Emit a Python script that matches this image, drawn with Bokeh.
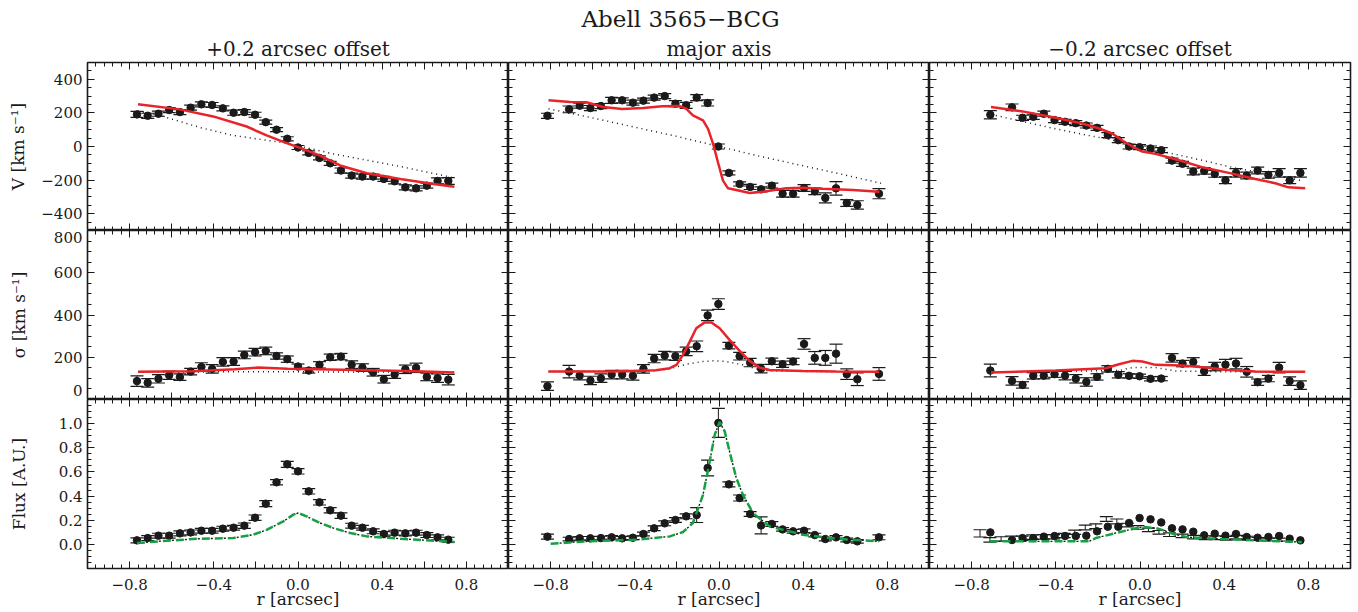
from bokeh.plotting import figure
from bokeh.layouts import column, row
from bokeh.models import (Range1d, LinearAxis, FixedTicker, Whisker, TeeHead,
                          ColumnDataSource, Title, CustomJSTickFormatter)
from bokeh.embed import file_html
from bokeh.resources import INLINE

FONT = "DejaVu Serif"

# ---------------- data ----------------
r_left = [-0.765, -0.714, -0.663, -0.612, -0.561, -0.510, -0.459, -0.408, -0.357, -0.306,
          -0.255, -0.204, -0.153, -0.102, -0.051, 0.000, 0.051, 0.102, 0.153, 0.204,
          0.255, 0.306, 0.357, 0.408, 0.459, 0.510, 0.561, 0.612, 0.663, 0.714]
r_major = [-0.815, -0.712, -0.662, -0.611, -0.561, -0.510, -0.460, -0.409, -0.359, -0.308,
           -0.258, -0.207, -0.156, -0.106, -0.054, -0.003, 0.047, 0.098, 0.148, 0.200,
           0.251, 0.302, 0.352, 0.404, 0.455, 0.505, 0.556, 0.607, 0.657, 0.760]
r_right = [-0.711, -0.608, -0.558, -0.507, -0.457, -0.406, -0.356, -0.305, -0.255, -0.204,
           -0.153, -0.103, -0.052, -0.002, 0.050, 0.101, 0.152, 0.202, 0.253, 0.305,
           0.355, 0.406, 0.456, 0.507, 0.559, 0.610, 0.661, 0.711, 0.762]

# velocity
v_left = [191, 183, 195, 217, 205, 231, 251, 247, 227, 201, 205, 189, 145, 100, 46,
          -6, -38, -68, -100, -143, -173, -179, -179, -193, -207, -243, -249, -233, -205, -205]
v_left_err = [18, 15, 15, 15, 15, 15, 15, 15, 15, 15, 15, 15, 12, 12, 12,
              12, 12, 12, 12, 15, 15, 15, 15, 15, 15, 15, 15, 15, 18, 20]
v_major = [183, 221, 243, 229, 241, 275, 275, 261, 273, 291, 300, 255, 245, 291, 259,
           0, -157, -223, -241, -255, -233, -281, -281, -247, -267, -306, -249, -336, -348, -281]
v_major_err = [15, 20, 15, 15, 15, 18, 15, 15, 15, 15, 15, 18, 18, 18, 18,
               15, 12, 12, 15, 15, 15, 20, 20, 20, 20, 30, 40, 20, 25, 30]
v_right = [189, 233, 171, 177, 195, 157, 147, 139, 125, 111, 68, 38, 0, -4, -12,
           -22, -84, -103, -149, -145, -163, -201, -157, -173, -143, -169, -157, -201, -157]
v_right_err = [25, 20, 15, 15, 15, 15, 15, 15, 15, 15, 15, 15, 15, 15, 15,
               15, 15, 15, 20, 20, 20, 20, 25, 20, 20, 20, 25, 20, 25]

vmod_left_r = [-0.76, -0.562, -0.403, -0.244, -0.149, -0.054, 0.010, 0.105, 0.2, 0.327, 0.486, 0.644, 0.743]
vmod_left_v = [251, 221, 179, 119, 66, 20, -8, -54, -113, -159, -193, -223, -239]
vnobh_left_r = [-0.76, -0.657, -0.46, -0.308, -0.054, 0.168, 0.486, 0.743]
vnobh_left_v = [211, 185, 111, 66, 20, -44, -119, -187]

vmod_major_r = [-0.81, -0.707, -0.63, -0.55, -0.46, -0.36, -0.27, -0.19, -0.156, -0.124, -0.076,
                -0.052, -0.028, -0.005, 0.019, 0.043, 0.082, 0.146, 0.209, 0.319, 0.398, 0.493, 0.635, 0.762]
vmod_major_v = [275, 265, 263, 235, 223, 229, 239, 241, 225, 185, 155,
                105, 16, -94, -203, -249, -259, -277, -269, -249, -245, -251, -259, -269]
vnobh_major_r = [-0.81, -0.6, -0.4, -0.2, 0.0, 0.2, 0.4, 0.6, 0.77]
vnobh_major_v = [225, 170, 115, 60, 0, -60, -115, -170, -219]

vmod_right_r = [-0.708, -0.558, -0.4, -0.27, -0.194, -0.13, -0.084, -0.036, 0.011, 0.074,
                0.169, 0.295, 0.422, 0.548, 0.643, 0.705, 0.785]
vmod_right_v = [235, 209, 171, 135, 107, 76, 36, 0, -30, -44, -76, -123, -157, -193, -219, -243, -249]
vnobh_right_r = [-0.708, -0.4, -0.084, -0.005, 0.232, 0.469, 0.548, 0.769]
vnobh_right_v = [191, 105, 26, 0, -64, -133, -149, -203]

# velocity dispersion
s_left = [87, 79, 98, 115, 106, 132, 154, 145, 178, 180, 211, 224, 230, 206, 191,
          156, 137, 164, 200, 203, 165, 151, 129, 96, 118, 143, 150, 107, 101, 94]
s_left_err = [25, 20, 20, 20, 15, 15, 20, 20, 20, 18, 18, 18, 18, 15, 15,
              12, 12, 15, 15, 15, 18, 18, 18, 18, 18, 20, 22, 18, 20, 25]
s_major = [63, 132, 113, 90, 101, 118, 118, 112, 145, 194, 208, 205, 228, 252, 398,
           452, 255, 205, 175, 146, 181, 167, 180, 263, 197, 197, 217, 120, 96, 121]
s_major_err = [20, 30, 20, 20, 20, 20, 20, 20, 20, 20, 20, 20, 20, 25, 25,
               25, 15, 18, 20, 20, 15, 15, 15, 25, 30, 35, 45, 25, 30, 30]
s_right = [137, 88, 69, 112, 113, 120, 113, 98, 83, 107, 145, 117, 112, 110, 98,
           99, 197, 170, 178, 134, 156, 165, 170, 131, 82, 99, 151, 87, 68]
s_right_err = [30, 20, 15, 15, 15, 15, 20, 20, 20, 15, 15, 15, 10, 10, 10,
               10, 20, 15, 20, 20, 20, 25, 25, 25, 15, 15, 25, 20, 20]

smod_left_r = [-0.76, -0.5, -0.3, -0.19, -0.05, 0.15, 0.4, 0.6, 0.743]
smod_left_s = [131, 134, 143, 151, 145, 142, 137, 132, 128]
snobh_left_r = [-0.76, -0.3, 0.0, 0.3, 0.743]
snobh_left_s = [130, 131, 131, 130, 129]

smod_major_r = [-0.81, -0.5, -0.3, -0.234, -0.202, -0.171, -0.139, -0.108, -0.068, -0.036,
                0.003, 0.050, 0.098, 0.145, 0.193, 0.24, 0.398, 0.556, 0.761]
smod_major_s = [132, 133, 138, 148, 164, 211, 274, 337, 365, 365,
                337, 282, 230, 183, 151, 140, 135, 132, 131]
snobh_major_r = [-0.81, -0.313, -0.234, -0.155, -0.076, -0.028, 0.035, 0.114, 0.177, 0.24, 0.5, 0.761]
snobh_major_s = [132, 135, 145, 167, 180, 183, 180, 164, 145, 135, 132, 131]

smod_right_r = [-0.708, -0.4, -0.163, -0.1, -0.036, 0.011, 0.074, 0.2, 0.31, 0.42, 0.548, 0.785]
smod_right_s = [128, 137, 148, 167, 183, 180, 164, 161, 151, 140, 132, 131]
snobh_right_r = [-0.708, -0.4, -0.1, -0.036, 0.074, 0.169, 0.4, 0.785]
snobh_right_s = [128, 133, 137, 151, 151, 135, 131, 130]

# flux
f_left = [0.033, 0.052, 0.072, 0.072, 0.091, 0.099, 0.113, 0.113, 0.130, 0.138,
          0.155, 0.221, 0.337, 0.514, 0.663, 0.605, 0.439, 0.348, 0.282, 0.238,
          0.155, 0.138, 0.108, 0.086, 0.097, 0.091, 0.097, 0.077, 0.058, 0.039]
f_left_err = [0.02] * 10 + [0.022, 0.022, 0.025, 0.022, 0.025, 0.022, 0.022, 0.022, 0.022, 0.022] + [0.02] * 10
f_major = [0.064, 0.044, 0.050, 0.050, 0.052, 0.058, 0.050, 0.055, 0.086, 0.133,
           0.174, 0.202, 0.232, 0.243, 0.633, 1.006, 0.497, 0.384, 0.251, 0.157,
           0.169, 0.124, 0.108, 0.113, 0.077, 0.044, 0.058, 0.036, 0.025, 0.058]
f_major_err = [0.02, 0.015, 0.015, 0.015, 0.015, 0.015, 0.015, 0.015, 0.015, 0.02,
               0.02, 0.02, 0.02, 0.062, 0.065, 0.12, 0.02, 0.025, 0.02, 0.07,
               0.02, 0.015, 0.015, 0.015, 0.015, 0.015, 0.015, 0.015, 0.015, 0.02]
f_right = [0.099, 0.036, 0.052, 0.052, 0.064, 0.069, 0.069, 0.069, 0.072, 0.108,
           0.146, 0.146, 0.177, 0.218, 0.207, 0.182, 0.133, 0.124, 0.105, 0.075,
           0.088, 0.072, 0.086, 0.061, 0.055, 0.061, 0.069, 0.047, 0.033]
f_right_eb_r = [-0.760, -0.713, -0.66, -0.61, -0.56, -0.51, -0.46, -0.41, -0.36, -0.31,
                -0.26, -0.21, -0.16, -0.11, -0.06, -0.01, 0.04, 0.09, 0.14, 0.2,
                0.255, 0.31, 0.36, 0.41, 0.46, 0.51, 0.56, 0.61, 0.66]
f_right_eb_f = [0.091, 0.037, 0.045, 0.05, 0.05, 0.06, 0.062, 0.063, 0.073, 0.1,
                0.14, 0.15, 0.21, 0.19, 0.16, 0.14, 0.12, 0.10, 0.08, 0.07,
                0.06, 0.055, 0.055, 0.05, 0.06, 0.052, 0.045, 0.04, 0.04]
f_right_eb_err = [0.03, 0.018, 0.018, 0.018, 0.018, 0.018, 0.018, 0.018, 0.018, 0.018,
                  0.02, 0.02, 0.02, 0.02, 0.015, 0.015, 0.015, 0.015, 0.015, 0.015,
                  0.015, 0.015, 0.015, 0.015, 0.015, 0.015, 0.012, 0.012, 0.012]

fmod_left_r = [-0.765, -0.625, -0.467, -0.308, -0.213, -0.149, -0.07, -0.022, 0.001, 0.041,
               0.105, 0.168, 0.248, 0.327, 0.486, 0.644, 0.743]
fmod_left_f = [0.011, 0.03, 0.047, 0.052, 0.08, 0.12, 0.19, 0.246, 0.26, 0.232,
               0.177, 0.135, 0.094, 0.066, 0.047, 0.03, 0.019]
fmod_major_r = [-0.80, -0.626, -0.39, -0.234, -0.171, -0.124, -0.076, -0.044, -0.02, 0.003,
                0.027, 0.05, 0.082, 0.114, 0.161, 0.24, 0.398, 0.556, 0.761]
fmod_major_f = [0.005, 0.025, 0.039, 0.066, 0.102, 0.177, 0.41, 0.688, 0.91, 1.014,
                0.936, 0.77, 0.55, 0.41, 0.26, 0.149, 0.08, 0.047, 0.025]
fmod_right_r = [-0.715, -0.242, -0.21, -0.115, -0.052, 0.01, 0.074, 0.105, 0.169, 0.232, 0.39, 0.548, 0.769]
fmod_right_f = [0.025, 0.025, 0.052, 0.094, 0.12, 0.144, 0.135, 0.12, 0.08, 0.058, 0.044, 0.033, 0.019]

col_titles = ["+0.2 arcsec offset", "major axis", "\u22120.2 arcsec offset"]
row_labels = ["V [km s\u207b\u00b9]", "\u03c3 [km s\u207b\u00b9]", "Flux [A.U.]"]
main_title = "Abell 3565\u2212BCG"

# ---------------- styling / layout ----------------
RED = "#e8242a"
GREEN = "#17a043"
INK = "#1a1a1a"
FRAME_W = 421
FRAME_H = [168, 169, 169]
YR = [(-500, 500), (0, 800), (-0.2, 1.2)]
Y_MAJOR = [[-400, -200, 0, 200, 400], [0, 200, 400, 600, 800], [0, 0.2, 0.4, 0.6, 0.8, 1.0]]
Y_MINOR = [[-500 + 50 * i for i in range(21)], [50 * i for i in range(17)],
           [round(-0.2 + 0.05 * i, 3) for i in range(29)]]
# positions where the left-column tick labels are written (end labels nudged inward as in the original)
Y_LABEL_POS = [[-400, -200, 0, 200, 400], [42, 200, 400, 600, 766], [0, 0.2, 0.4, 0.6, 0.8, 1.0]]
Y_FMT = [
    "return (tick < 0 ? '\u2212' : '') + Math.abs(tick).toFixed(0);",
    "if (tick < 100) return '0'; if (tick > 700) return '800'; return tick.toFixed(0);",
    "return Math.abs(tick).toFixed(1);",
]
X_MAJOR = [-0.8, -0.6, -0.4, -0.2, 0, 0.2, 0.4, 0.6, 0.8]
X_MINOR = [round(-1 + 0.04 * i, 3) for i in range(51)]
YLAB_STANDOFF = [10, 22, 27]

X_FMT = ("const k = Math.round(Math.abs(tick)*10); if (k % 4 != 0) return '';"
         " return (tick < -1e-9 ? '\u2212' : '') + Math.abs(tick).toFixed(1);")

def tick_axis(ticker):
    """Axis that only draws inward tick marks (no labels)."""
    return LinearAxis(ticker=ticker, formatter=CustomJSTickFormatter(code="return '';"),
                      axis_line_color=None,
                      major_tick_in=7, major_tick_out=0, minor_tick_in=4, minor_tick_out=0,
                      major_tick_line_color=INK, minor_tick_line_color=INK,
                      major_tick_line_width=1, minor_tick_line_width=1,
                      major_label_text_font_size="0px", major_label_standoff=0)

def label_axis(ticker, code, label, standoff, label_standoff):
    """Axis that only writes tick labels and the axis title (no tick marks)."""
    return LinearAxis(ticker=ticker, formatter=CustomJSTickFormatter(code=code),
                      axis_line_color=None,
                      major_tick_in=0, major_tick_out=0, minor_tick_in=0, minor_tick_out=0,
                      major_label_text_font=FONT, major_label_text_font_size="15px",
                      major_label_text_color=INK, major_label_standoff=standoff,
                      axis_label=label, axis_label_text_font=FONT,
                      axis_label_text_font_size="17px", axis_label_text_font_style="normal",
                      axis_label_text_color=INK, axis_label_standoff=label_standoff)

def errbars(p, xs, ys, es):
    src = ColumnDataSource(dict(x=xs, hi=[y + e for y, e in zip(ys, es)], lo=[y - e for y, e in zip(ys, es)]))
    w = Whisker(source=src, base="x", upper="hi", lower="lo", dimension="height",
                line_color=INK, line_width=1,
                upper_head=TeeHead(size=13, line_color=INK, line_width=1.2),
                lower_head=TeeHead(size=13, line_color=INK, line_width=1.2))
    p.add_layout(w)

def make_panel(ci, ri):
    left = 87 if ci == 0 else 0
    right = 7 if ci == 2 else 0
    top = 62 if ri == 0 else 0
    bottom = 44 if ri == 2 else 0
    p = figure(frame_width=FRAME_W, frame_height=FRAME_H[ri],
               x_range=Range1d(-1, 1), y_range=Range1d(*YR[ri]),
               output_backend="svg", toolbar_location=None,
               x_axis_location=None, y_axis_location=None,
               min_border_left=left, min_border_right=right,
               min_border_top=top, min_border_bottom=bottom)
    p.grid.visible = False
    p.outline_line_color = INK
    p.outline_line_width = 1.6
    p.background_fill_color = "white"
    p.border_fill_color = "white"
    yt = lambda: FixedTicker(ticks=Y_MAJOR[ri], minor_ticks=Y_MINOR[ri])
    xt = lambda: FixedTicker(ticks=X_MAJOR, minor_ticks=X_MINOR)
    p.add_layout(tick_axis(yt()), "left")
    p.add_layout(tick_axis(yt()), "right")
    p.add_layout(tick_axis(xt()), "below")
    p.add_layout(tick_axis(xt()), "above")
    if ci == 0:
        p.add_layout(label_axis(FixedTicker(ticks=Y_LABEL_POS[ri], minor_ticks=[]), Y_FMT[ri],
                                row_labels[ri], 5, YLAB_STANDOFF[ri]), "left")
    if ri == 2:
        p.add_layout(label_axis(FixedTicker(ticks=X_MAJOR, minor_ticks=[]), X_FMT,
                                "r [arcsec]", 10, -4), "below")
    if ri == 0:
        p.add_layout(Title(text=col_titles[ci], align="center", text_font=FONT,
                           text_font_size="20px", text_font_style="normal", text_color=INK,
                           standoff=4), "above")
    return p

panels = [[make_panel(ci, ri) for ci in range(3)] for ri in range(3)]

R = [r_left, r_major, r_right]
V = [v_left, v_major, v_right]
VE = [v_left_err, v_major_err, v_right_err]
S = [s_left, s_major, s_right]
SE = [s_left_err, s_major_err, s_right_err]
F = [f_left, f_major, f_right]
VM = [(vmod_left_r, vmod_left_v), (vmod_major_r, vmod_major_v), (vmod_right_r, vmod_right_v)]
VN = [(vnobh_left_r, vnobh_left_v), (vnobh_major_r, vnobh_major_v), (vnobh_right_r, vnobh_right_v)]
SM = [(smod_left_r, smod_left_s), (smod_major_r, smod_major_s), (smod_right_r, smod_right_s)]
SN = [(snobh_left_r, snobh_left_s), (snobh_major_r, snobh_major_s), (snobh_right_r, snobh_right_s)]
FM = [(fmod_left_r, fmod_left_f), (fmod_major_r, fmod_major_f), (fmod_right_r, fmod_right_f)]
F_EB = [(r_left, f_left, f_left_err), (r_major, f_major, f_major_err),
        (f_right_eb_r, f_right_eb_f, f_right_eb_err)]

for ci in range(3):
    # velocity
    p = panels[0][ci]
    p.line(VN[ci][0], VN[ci][1], line_color=INK, line_width=1.5, line_dash="1 4")
    errbars(p, R[ci], V[ci], VE[ci])
    p.scatter(R[ci], V[ci], size=7.5, color=INK)
    p.line(VM[ci][0], VM[ci][1], line_color=RED, line_width=2.5)
    # dispersion
    p = panels[1][ci]
    p.line(SN[ci][0], SN[ci][1], line_color=INK, line_width=1.5, line_dash="1 4")
    errbars(p, R[ci], S[ci], SE[ci])
    p.scatter(R[ci], S[ci], size=7.5, color=INK)
    p.line(SM[ci][0], SM[ci][1], line_color=RED, line_width=2.5)
    # flux
    p = panels[2][ci]
    ex, ey, ee = F_EB[ci]
    errbars(p, ex, ey, ee)
    p.scatter(R[ci], F[ci], size=7.5, color=INK)
    p.line(FM[ci][0], FM[ci][1], line_color=GREEN, line_width=2.5, line_dash="8 5")
    p.line(FM[ci][0], FM[ci][1], line_color=INK, line_width=1.4, line_dash="2 11", line_dash_offset=-9)

# main title, centred on the whole page (page centre 679 px; middle frame starts at 509 px)
panels[0][1].add_layout(Title(text=main_title, align="left", offset=73, text_font=FONT,
                              text_font_size="23px", text_font_style="normal", text_color=INK,
                              standoff=2), "above")

layout = column([row(panels[ri], spacing=0) for ri in range(3)], spacing=0)
html = file_html(layout, INLINE, title="Abell 3565-BCG")
with open("out.html", "w") as f:
    f.write(html)
